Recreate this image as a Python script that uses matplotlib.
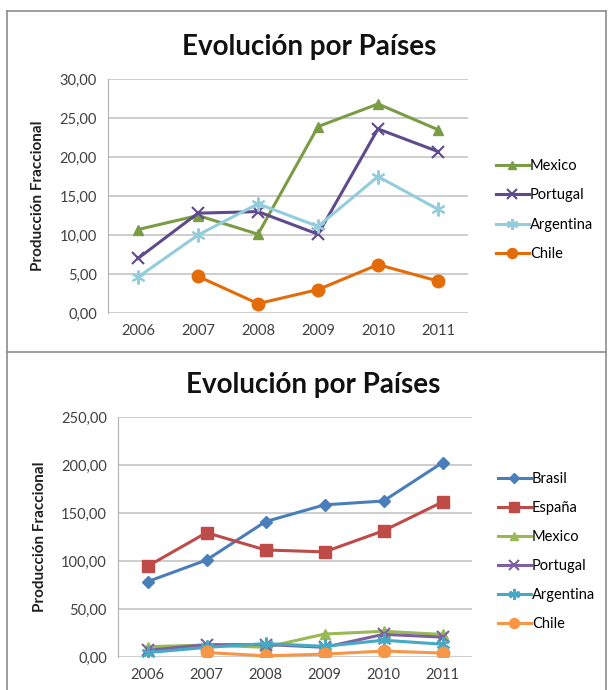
import numpy as np
import matplotlib
matplotlib.use("Agg")
import matplotlib.pyplot as plt
from matplotlib.ticker import FuncFormatter, MultipleLocator
from matplotlib.lines import Line2D

plt.rcParams['font.family'] = ['Lato', 'DejaVu Sans']

years = ['2006', '2007', '2008', '2009', '2010', '2011']

brasil = [78.5, 101.0, 141.0, 158.5, 162.5, 202.5]
espana = [94.5, 129.5, 111.5, 109.5, 131.5, 161.5]
mexico = [10.7, 12.5, 10.1, 23.9, 26.8, 23.5]
portugal = [7.0, 12.8, 13.0, 10.1, 23.6, 20.7]
argentina = [4.6, 10.0, 14.0, 11.1, 17.5, 13.3]
chile = [np.nan, 4.7, 1.2, 3.0, 6.2, 4.1]

title = 'Evolución por Países'
ylabel = 'Producción Fraccional'

fig = plt.figure(figsize=(6.08, 6.9), dpi=100)

# outer frames (pixel coords -> figure fraction)
W, H = 608, 690
def fx(px):
    return px / W
def fy(py):
    return 1 - py / H

frame = '#8c8c8c'
fig.add_artist(Line2D([fx(7), fx(7)], [fy(11), 0], color=frame, lw=1.2))
fig.add_artist(Line2D([fx(7), fx(606)], [fy(11), fy(11)], color=frame, lw=1.2))
fig.add_artist(Line2D([fx(606), fx(606)], [fy(11), 0], color=frame, lw=1.2))
fig.add_artist(Line2D([fx(7), fx(606)], [fy(352), fy(352)], color=frame, lw=1.2))

comma = FuncFormatter(lambda v, p: f"{v:.2f}".replace('.', ','))
x = np.arange(len(years))


def style_axes(ax, ymax, step):
    ax.set_xlim(-0.5, len(years) - 0.5)
    ax.set_ylim(0, ymax)
    ax.yaxis.set_major_locator(MultipleLocator(step))
    ax.yaxis.set_major_formatter(comma)
    ax.set_xticks(x)
    ax.set_xticklabels(years)
    ax.grid(axis='y', color='#c0c0c0', lw=1.1)
    ax.set_axisbelow(True)
    for s in ['top', 'right', 'bottom']:
        ax.spines[s].set_visible(False)
    ax.spines['left'].set_color('#b0b0b0')
    ax.tick_params(length=0, labelsize=10.5, colors='#404040', pad=8)
    ax.set_ylabel(ylabel, fontsize=11, fontweight='bold', color='#202020')


# top chart
ax1 = fig.add_axes([fx(108), fy(313), fx(468) - fx(108), fy(79) - fy(313)])
ax1.plot(x, mexico, color='#7A9C44', lw=2.2, marker='^', ms=7, label='Mexico')
ax1.plot(x, portugal, color='#5F4B8B', lw=2.2, marker='x', ms=9, mew=1.5, label='Portugal')
ax1.plot(x, argentina, color='#93CDDD', lw=2.2, marker=(6, 2, 0), ms=10, mew=1.5, label='Argentina')
ax1.plot(x, chile, color='#E36C09', lw=2.2, marker='o', ms=9, label='Chile')
style_axes(ax1, 30, 5)
ax1.set_title(title, fontsize=20, fontweight='bold', color='#111111', pad=17)
ax1.title.set_position((0.56, 1))
ax1.yaxis.set_label_coords(-0.175, 0.5)
ax1.legend(loc='center left', bbox_to_anchor=(1.04, 0.44), frameon=False,
           fontsize=10.5, handlelength=2.3, labelspacing=1.05, handletextpad=0.05,
           markerscale=0.8)

# bottom chart
ax2 = fig.add_axes([fx(118), fy(657), fx(472) - fx(118), fy(417) - fy(657)])
ax2.plot(x, brasil, color='#4A7EBB', lw=2.2, marker='D', ms=6, label='Brasil')
ax2.plot(x, espana, color='#BE4B48', lw=2.2, marker='s', ms=9, label='España')
ax2.plot(x, mexico, color='#98B954', lw=2.2, marker='^', ms=7, label='Mexico')
ax2.plot(x, portugal, color='#7D60A0', lw=2.2, marker='x', ms=9, mew=1.5, label='Portugal')
ax2.plot(x, argentina, color='#46AAC5', lw=2.2, marker=(6, 2, 0), ms=10, mew=1.5, label='Argentina')
ax2.plot(x, chile, color='#F79646', lw=2.2, marker='o', ms=9, label='Chile')
style_axes(ax2, 250, 50)
ax2.set_title(title, fontsize=20, fontweight='bold', color='#111111', pad=17)
ax2.title.set_position((0.55, 1))
ax2.yaxis.set_label_coords(-0.2, 0.5)
ax2.legend(loc='center left', bbox_to_anchor=(1.035, 0.44), frameon=False,
           fontsize=10.5, handlelength=2.3, labelspacing=1.03, handletextpad=0.05,
           markerscale=0.8)

fig.savefig('out.png', dpi=100)
